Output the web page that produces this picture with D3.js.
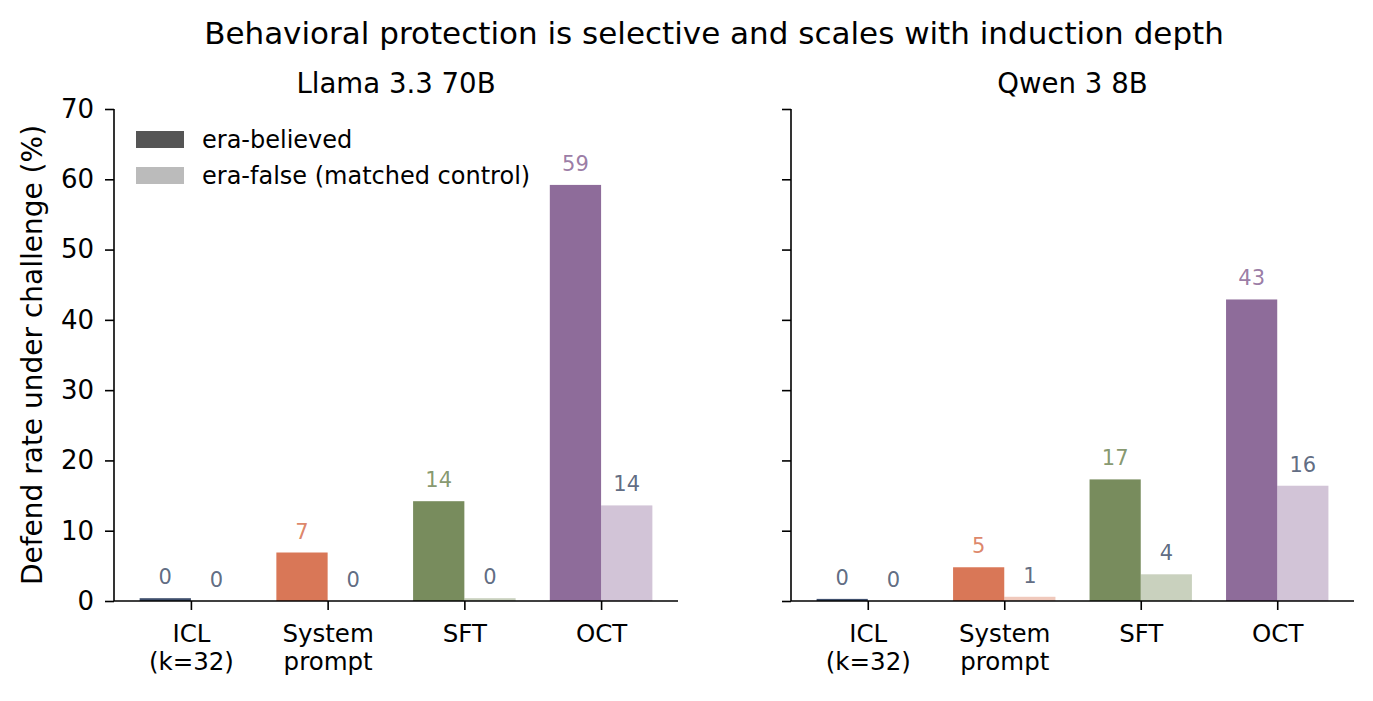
<!DOCTYPE html>
<html>
<head>
<meta charset="utf-8">
<title>Behavioral protection</title>
<script src="https://d3js.org/d3.v7.min.js"></script>
<style>
  body { margin: 0; background: #fff; }
  svg text { font-family: "DejaVu Sans", sans-serif; }
</style>
</head>
<body>
<div id="chart"></div>
<script>
// data
var methods = ["ICL\n(k=32)", "System\nprompt", "SFT", "OCT"];
var methodColors = ["#3f4f6d", "#d97757", "#788c5d", "#8e6c9a"];
var models = ["Llama 3.3 70B", "Qwen 3 8B"];
var llamaBelieved = [0.4, 6.9, 14.2, 59.2];
var llamaFalse = [0, 0, 0.4, 13.6];
var qwenBelieved = [0.3, 4.8, 17.3, 42.9];
var qwenFalse = [0, 0.6, 3.8, 16.4];
var yTicks = [0, 10, 20, 30, 40, 50, 60, 70];
var legendLabels = ["era-believed", "era-false (matched control)"];

var svgDims = {width: 1373, height: 701};
var top_ = 109, bottom_ = 601;
var panels = [
  {title: models[0], left: 114, right: 678, believed: llamaBelieved, falsev: llamaFalse, labels: true},
  {title: models[1], left: 791, right: 1354, believed: qwenBelieved, falsev: qwenFalse, labels: false}
];
var barW = 0.375;
var falseLabelColor = "#4d5a73";

var svg = d3.select("#chart").append("svg")
  .attr("width", svgDims.width)
  .attr("height", svgDims.height);

svg.append("text")
  .attr("x", 714).attr("y", 44)
  .attr("text-anchor", "middle")
  .attr("font-size", 31)
  .text("Behavioral protection is selective and scales with induction depth");

var y = d3.scaleLinear().domain([0, 70]).range([bottom_, top_]);

panels.forEach(function(p, pi) {
  var x = d3.scaleLinear().domain([-0.5625, 3.5625]).range([p.left, p.right]);
  var g = svg.append("g");

  g.append("text")
    .attr("x", (p.left + p.right) / 2).attr("y", 93)
    .attr("text-anchor", "middle")
    .attr("font-size", 27.6)
    .text(p.title);

  // bars
  methods.forEach(function(m, i) {
    g.append("rect")
      .attr("x", x(i - barW)).attr("width", x(barW) - x(0))
      .attr("y", y(p.believed[i])).attr("height", y(0) - y(p.believed[i]))
      .attr("fill", methodColors[i]);
    g.append("rect")
      .attr("x", x(i)).attr("width", x(barW) - x(0))
      .attr("y", y(p.falsev[i])).attr("height", y(0) - y(p.falsev[i]))
      .attr("fill", methodColors[i]).attr("fill-opacity", 0.4);

    g.append("text")
      .attr("x", x(i - barW / 2)).attr("y", y(p.believed[i]) - 14)
      .attr("text-anchor", "middle").attr("font-size", 21)
      .attr("fill", i === 0 ? falseLabelColor : methodColors[i])
      .attr("fill-opacity", 0.9)
      .text(Math.round(p.believed[i]));
    g.append("text")
      .attr("x", x(i + barW / 2)).attr("y", y(p.falsev[i]) - 14)
      .attr("text-anchor", "middle").attr("font-size", 21)
      .attr("fill", falseLabelColor)
      .attr("fill-opacity", 0.9)
      .text(Math.round(p.falsev[i]));
  });

  // axes
  var yAxis = d3.axisLeft(y).tickValues(yTicks).tickSize(9).tickPadding(11)
    .tickFormat(p.labels ? d3.format("d") : function() { return ""; });
  var ya = g.append("g").attr("transform", "translate(" + p.left + ",0)").call(yAxis);
  ya.select(".domain").attr("d", "M0," + top_ + "V" + bottom_).attr("stroke-width", 1.6);
  ya.selectAll(".tick line").attr("stroke-width", 1.6);
  ya.selectAll(".tick text").attr("font-size", 26).attr("font-family", "DejaVu Sans").attr("fill", "#000");

  var xAxis = d3.axisBottom(x).tickValues([0, 1, 2, 3]).tickSize(9).tickFormat("");
  var xa = g.append("g").attr("transform", "translate(0," + bottom_ + ")").call(xAxis);
  xa.select(".domain").attr("d", "M" + p.left + ",0H" + p.right).attr("stroke-width", 1.6);
  xa.selectAll(".tick line").attr("stroke-width", 1.6);
  xa.selectAll(".tick").each(function(d) {
    var t = d3.select(this).append("text")
      .attr("text-anchor", "middle").attr("fill", "#000")
      .attr("font-size", 24.5).attr("font-family", "DejaVu Sans");
    methods[d].split("\n").forEach(function(line, li) {
      t.append("tspan").attr("x", 0).attr("y", 41 + li * 28).text(line);
    });
  });

  if (p.labels) {
    g.append("text")
      .attr("transform", "translate(42," + ((top_ + bottom_) / 2) + ") rotate(-90)")
      .attr("text-anchor", "middle").attr("font-size", 28)
      .text("Defend rate under challenge (%)");

    var legendColors = ["#555555", "#bbbbbb"];
    legendLabels.forEach(function(l, li) {
      g.append("rect")
        .attr("x", 136).attr("y", 131 + li * 36)
        .attr("width", 48).attr("height", 17)
        .attr("fill", legendColors[li]);
      g.append("text")
        .attr("x", 202).attr("y", 148 + li * 36)
        .attr("font-size", 24)
        .text(l);
    });
  }
});
</script>
</body>
</html>
